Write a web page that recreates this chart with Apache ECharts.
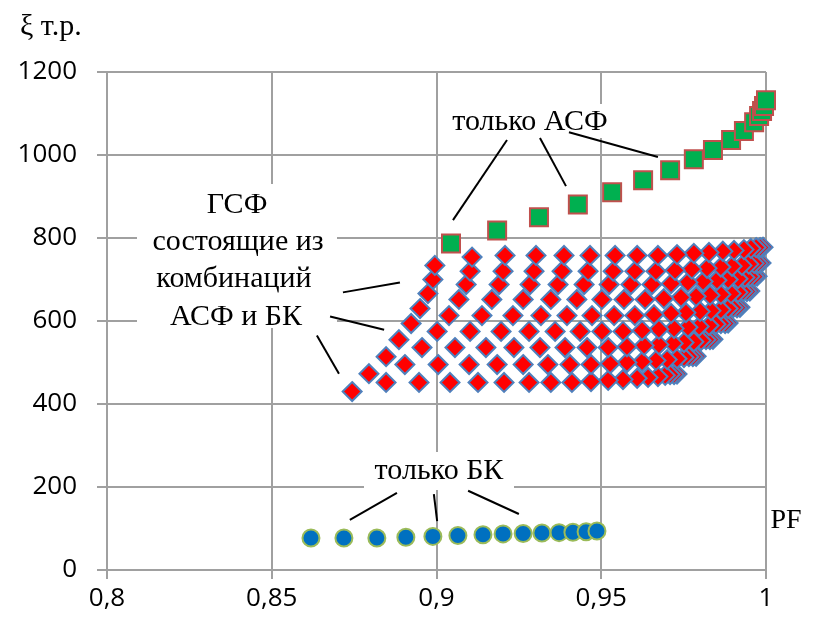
<!DOCTYPE html>
<html>
<head>
<meta charset="utf-8">
<script src="https://cdn.jsdelivr.net/npm/echarts@6/dist/echarts.min.js"></script>
<style>
html,body{margin:0;padding:0;background:#fff;}
#chart{width:816px;height:624px;}
</style>
</head>
<body>
<div id="chart"></div>
<script>
// X tick labels
const xTickLabels = ['0,8', '0,85', '0,9', '0,95', '1'];

// Only ASF (squares)
const asfPF   = [0.9044, 0.9184, 0.9311, 0.9429, 0.9533, 0.9627, 0.9709, 0.9781, 0.9839, 0.9894, 0.9933, 0.9964, 0.9979, 0.9988, 0.9994, 1.0];
const asfCost = [787, 818, 850, 881, 910, 939, 963, 990, 1012, 1036, 1058, 1079, 1094, 1106, 1118, 1132];

// Only BK (circles)
const bkPF   = [0.8619, 0.8719, 0.8819, 0.8907, 0.8989, 0.9065, 0.9141, 0.9202, 0.9263, 0.9320, 0.9372, 0.9414, 0.9454, 0.9487];
const bkCost = [77, 77, 77, 79, 81, 83, 85, 87, 88, 89, 90, 91, 92, 94];

// Combinations ASF + BK (diamonds): rows j = 0..8, columns i = 0..18
const gsfPF = [
  [0.8744,0.8847,0.8947,0.9041,0.9126,0.9205,0.9281,0.9347,0.9411,0.9469,0.9521,0.9566,0.9609,0.9642,0.9672,0.9694,0.9709,0.9721,0.9730],
  [0.8795,0.8904,0.9005,0.9099,0.9184,0.9263,0.9338,0.9405,0.9469,0.9527,0.9578,0.9624,0.9666,0.9700,0.9730,0.9751,0.9766,0.9778,0.9788],
  [0.8847,0.8956,0.9056,0.9150,0.9235,0.9314,0.9390,0.9457,0.9521,0.9578,0.9630,0.9675,0.9718,0.9751,0.9781,0.9803,0.9818,0.9830,0.9839],
  [0.8886,0.9002,0.9102,0.9196,0.9281,0.9360,0.9436,0.9502,0.9566,0.9624,0.9675,0.9721,0.9763,0.9797,0.9827,0.9848,0.9863,0.9876,0.9885],
  [0.8923,0.9038,0.9138,0.9232,0.9317,0.9396,0.9472,0.9539,0.9602,0.9660,0.9712,0.9757,0.9800,0.9833,0.9863,0.9885,0.9900,0.9912,0.9921],
  [0.8950,0.9068,0.9168,0.9263,0.9347,0.9426,0.9502,0.9569,0.9633,0.9690,0.9742,0.9788,0.9830,0.9863,0.9894,0.9915,0.9930,0.9942,0.9951],
  [0.8974,0.9090,0.9190,0.9284,0.9369,0.9448,0.9524,0.9590,0.9654,0.9712,0.9763,0.9809,0.9851,0.9885,0.9915,0.9936,0.9951,0.9964,0.9973],
  [0.8989,0.9102,0.9202,0.9296,0.9381,0.9460,0.9536,0.9602,0.9666,0.9724,0.9775,0.9821,0.9863,0.9897,0.9927,0.9948,0.9964,0.9976,0.9985],
  [0.8995,0.9108,0.9208,0.9302,0.9387,0.9466,0.9542,0.9609,0.9672,0.9730,0.9781,0.9827,0.9869,0.9903,0.9933,0.9954,0.9970,0.9982,0.9991]
];
const gsfCost = [
  [430,452,452,452,452,452,452,452,452,454,457,459,462,464,466,469,471,471,472],
  [473,495,495,495,495,495,495,495,495,497,500,502,505,507,509,512,514,514,515],
  [514,536,536,536,536,536,536,536,536,538,541,543,546,548,550,553,555,555,556],
  [555,575,575,575,575,575,575,575,575,577,580,582,585,587,589,592,594,594,595],
  [594,613,613,613,613,613,613,613,613,615,618,620,623,625,627,630,632,632,633],
  [630,652,652,652,652,652,652,652,652,654,657,659,662,664,666,669,671,671,672],
  [666,688,688,688,688,688,688,688,688,690,693,695,698,700,702,705,707,707,708],
  [700,720,720,720,720,720,720,720,720,722,725,727,730,732,734,737,739,739,740],
  [734,754,758,758,758,758,758,758,758,760,763,765,768,770,772,775,777,777,778]
];

// Callout lines (data coordinates) [x1, y1, x2, y2]
const calloutASF = [[0.9214,1036,0.9050,843],[0.9314,1041,0.9393,925],[0.9402,1055,0.9672,995]];
const calloutGSF = [[0.8716,669,0.8889,693],[0.8677,611,0.8841,579],[0.8637,565,0.8704,473]];
const calloutBK  = [[0.8880,186,0.8737,121],[0.8992,183,0.9002,118],[0.9096,191,0.9250,135]];

const gsfData = [];
const nCols = gsfPF[0].length;
for (let i = nCols - 1; i >= 0; i--) {
  for (let j = 0; j < gsfPF.length; j++) {
    gsfData.push([gsfPF[j][i], gsfCost[j][i]]);
  }
}
const asfData = asfPF.map((v, k) => [v, asfCost[k]]);
const bkData = bkPF.map((v, k) => [v, bkCost[k]]);
const calloutData = calloutASF.concat(calloutGSF, calloutBK).map(c => [{coord: [c[0], c[1]]}, {coord: [c[2], c[3]]}]);

const chart = echarts.init(document.getElementById('chart'), null, {renderer: 'canvas'});
const gridColor = '#A0A0A0';
const serif = '"Liberation Serif", "DejaVu Serif", serif';
chart.setOption({
  animation: false,
  backgroundColor: '#fff',
  grid: {left: 107, right: 50, top: 72, bottom: 54, containLabel: false},
  xAxis: {
    type: 'value', min: 0.8, max: 1, interval: 0.05,
    axisLine: {show: true, lineStyle: {color: gridColor, width: 2}},
    axisTick: {show: true, length: 9, lineStyle: {color: gridColor, width: 2}},
    splitLine: {show: true, lineStyle: {color: gridColor, width: 2}},
    axisLabel: {
      color: '#000', fontFamily: '"Open Sans", sans-serif', fontSize: 26, margin: 16,
      formatter: v => xTickLabels[Math.round((v - 0.8) / 0.05)]
    }
  },
  yAxis: {
    type: 'value', min: 0, max: 1200, interval: 200,
    axisLine: {show: true, lineStyle: {color: gridColor, width: 2}},
    axisTick: {show: true, length: 10, lineStyle: {color: gridColor, width: 2}},
    splitLine: {show: true, lineStyle: {color: gridColor, width: 2}},
    axisLabel: {color: '#000', fontFamily: '"Open Sans", sans-serif', fontSize: 26, margin: 30, formatter: v => String(v)}
  },
  series: [
    {
      type: 'scatter', name: 'ГСФ', data: gsfData, symbol: 'diamond', symbolSize: 19, z: 3,
      itemStyle: {color: '#FF0000', borderColor: '#4F81BD', borderWidth: 2, opacity: 1}
    },
    {
      type: 'scatter', name: 'только АСФ', data: asfData, symbol: 'rect', symbolSize: 18, z: 4,
      itemStyle: {color: '#00B050', borderColor: '#C0504D', borderWidth: 2, opacity: 1}
    },
    {
      type: 'scatter', name: 'только БК', data: bkData, symbol: 'circle', symbolSize: 17, z: 4,
      itemStyle: {color: '#0070C0', borderColor: '#9BBB59', borderWidth: 2, opacity: 1},
      markLine: {
        silent: true, symbol: ['none', 'none'], label: {show: false},
        lineStyle: {color: '#000', width: 2, type: 'solid'},
        data: calloutData
      }
    }
  ],
  graphic: [
    {type: 'rect', z: 1, shape: {x: 137, y: 184, width: 200, height: 144}, style: {fill: '#fff'}},
    {type: 'rect', z: 1, shape: {x: 443, y: 104, width: 176, height: 34}, style: {fill: '#fff'}},
    {type: 'rect', z: 1, shape: {x: 364, y: 452, width: 150, height: 38}, style: {fill: '#fff'}},
    {type: 'text', z: 100, left: 20, top: 12, style: {text: 'ξ т.р.', font: '30px ' + serif, fill: '#000'}},
    {type: 'text', z: 100, x: 530, y: 122, style: {text: 'только АСФ', font: '30px ' + serif, fill: '#000', textAlign: 'center', textVerticalAlign: 'middle'}},
    {type: 'text', z: 100, x: 237, y: 205, style: {text: 'ГСФ', font: '30px ' + serif, fill: '#000', textAlign: 'center', textVerticalAlign: 'middle'}},
    {type: 'text', z: 100, x: 238, y: 242, style: {text: 'состоящие из', font: '30px ' + serif, fill: '#000', textAlign: 'center', textVerticalAlign: 'middle'}},
    {type: 'text', z: 100, x: 234, y: 279, style: {text: 'комбинаций', font: '30px ' + serif, fill: '#000', textAlign: 'center', textVerticalAlign: 'middle'}},
    {type: 'text', z: 100, x: 236, y: 317, style: {text: 'АСФ и БК', font: '30px ' + serif, fill: '#000', textAlign: 'center', textVerticalAlign: 'middle'}},
    {type: 'text', z: 100, x: 439, y: 471, style: {text: 'только БК', font: '30px ' + serif, fill: '#000', textAlign: 'center', textVerticalAlign: 'middle'}},
    {type: 'text', z: 100, x: 786, y: 521, style: {text: 'PF', font: '28px ' + serif, fill: '#000', textAlign: 'center', textVerticalAlign: 'middle'}}
  ]
});
</script>
</body>
</html>
